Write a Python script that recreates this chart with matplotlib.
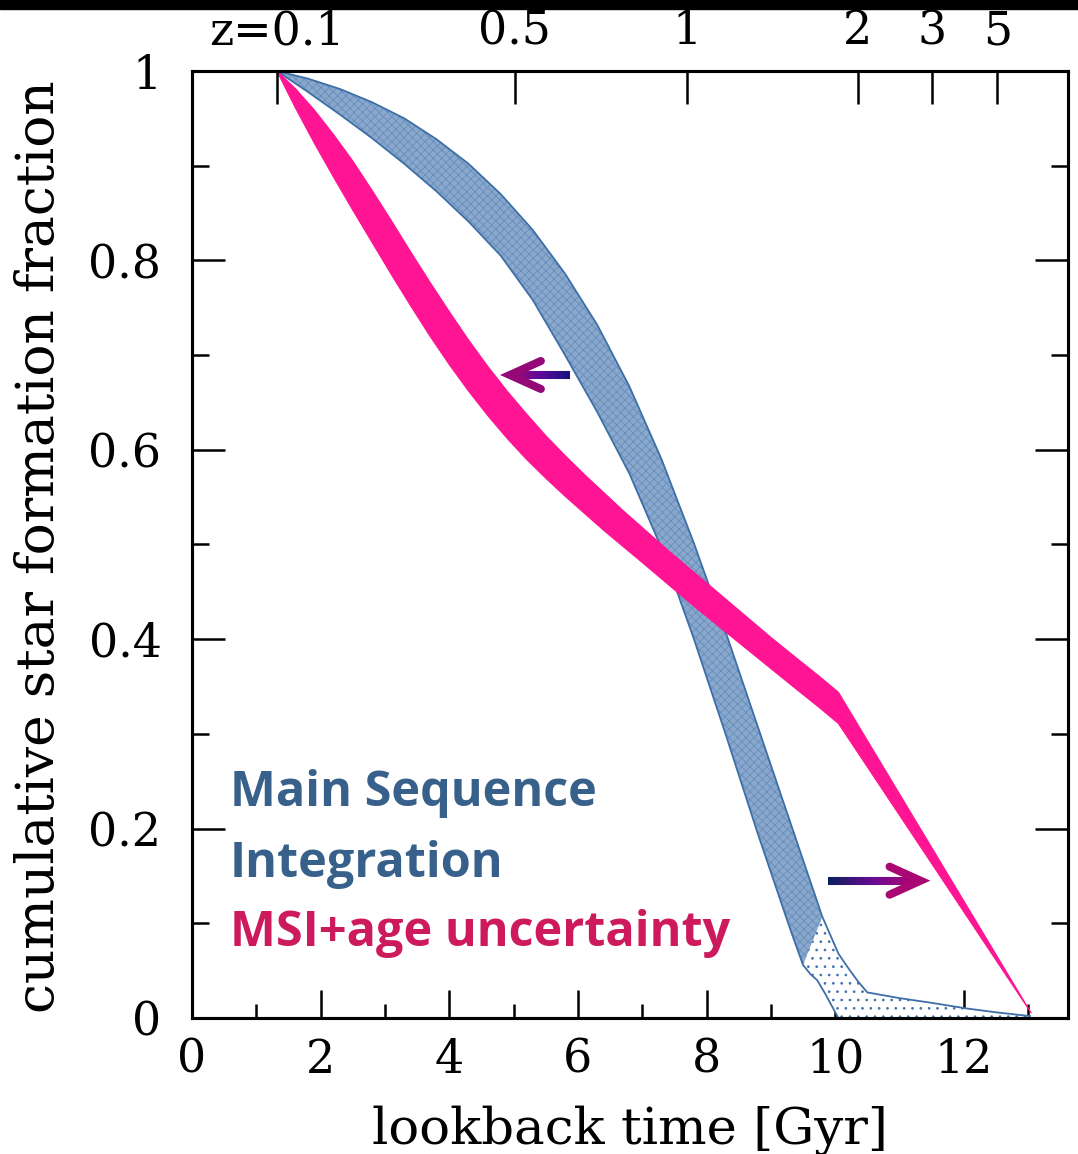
import numpy as np
import matplotlib
matplotlib.use("Agg")
import matplotlib.pyplot as plt
from matplotlib.collections import LineCollection
from matplotlib.colors import LinearSegmentedColormap
from matplotlib.patches import Rectangle
from matplotlib.ticker import MultipleLocator, FuncFormatter

# ---------------------------------------------------------------------------
# Cumulative star formation fraction vs lookback time [Gyr]
# ---------------------------------------------------------------------------

# Main Sequence Integration band: outer (upper/right) edge
ms_upper_t = [1.32, 1.80, 2.30, 2.80, 3.30, 3.80, 4.30, 4.80, 5.30, 5.80, 6.30, 6.80,
              7.30, 7.80, 8.30, 8.80, 9.30, 9.80, 10.05, 10.19, 10.35, 10.50,
              11.00, 11.50, 12.05, 12.50, 13.03]
ms_upper_f = [1.000, 0.992, 0.981, 0.967, 0.950, 0.928, 0.902, 0.870, 0.832, 0.786, 0.732, 0.667,
              0.590, 0.502, 0.407, 0.307, 0.207, 0.107, 0.068, 0.054, 0.039, 0.027,
              0.021, 0.016, 0.010, 0.006, 0.002]
# Main Sequence Integration band: inner (lower/left) edge
ms_lower_t = [1.32, 1.80, 2.30, 2.80, 3.30, 3.80, 4.30, 4.80, 5.30, 5.80, 6.30, 6.80,
              7.30, 7.80, 8.30, 8.80, 9.30, 9.50, 9.62, 9.72, 9.85, 10.05,
              11.00, 12.00, 13.03]
ms_lower_f = [1.000, 0.978, 0.954, 0.929, 0.902, 0.873, 0.841, 0.805, 0.758, 0.700, 0.640, 0.575,
              0.496, 0.401, 0.299, 0.194, 0.094, 0.056, 0.046, 0.040, 0.025, 0.000,
              0.000, 0.000, 0.000]
# end of the densely sampled part of the band on each edge
ms_dense_tmax_upper = 9.80
ms_dense_tmax_lower = 9.50

# MSI + age uncertainty band
msi_upper_t = [1.32, 1.60, 1.90, 2.20, 2.50, 2.80, 3.10, 3.40, 3.70, 4.00, 4.30, 4.60,
               4.90, 5.20, 5.50, 5.80, 6.10, 6.40, 6.70, 7.00, 7.40, 7.80, 8.20, 8.60,
               9.00, 9.40, 9.75, 10.05, 13.05]
msi_upper_f = [1.000, 0.982, 0.959, 0.933, 0.905, 0.874, 0.842, 0.809, 0.777, 0.746, 0.716, 0.688,
               0.662, 0.638, 0.615, 0.594, 0.574, 0.555, 0.536, 0.518, 0.494, 0.471, 0.448, 0.425,
               0.402, 0.380, 0.361, 0.344, 0.005]
msi_lower_t = [1.32, 1.60, 1.90, 2.20, 2.50, 2.80, 3.10, 3.40, 3.70, 4.00, 4.30, 4.60,
               4.90, 5.20, 5.50, 5.80, 6.10, 6.40, 6.70, 7.00, 7.40, 7.80, 8.20, 8.60,
               9.00, 9.40, 9.75, 10.05, 13.05]
msi_lower_f = [1.000, 0.962, 0.924, 0.888, 0.853, 0.819, 0.785, 0.752, 0.720, 0.690, 0.662, 0.636,
               0.612, 0.590, 0.570, 0.551, 0.533, 0.515, 0.498, 0.481, 0.458, 0.435, 0.413, 0.391,
               0.369, 0.347, 0.328, 0.311, 0.005]

# redshift scale on the upper axis
z_labels = ["z=0.1", "0.5", "1", "2", "3", "5"]
z_lookback = [1.32, 5.02, 7.70, 10.35, 11.50, 12.52]

x_label = "lookback time [Gyr]"
y_label = "cumulative star formation fraction"
legend_ms = ["Main Sequence", "Integration"]
legend_msi = "MSI+age uncertainty"

# arrows: (tail, tip) in data coordinates
arrow_left = ((5.87, 0.679), (4.79, 0.679))
arrow_right = ((9.89, 0.145), (11.48, 0.145))

# ---------------------------------------------------------------------------
plt.rcParams["font.family"] = ["DejaVu Serif"]
plt.rcParams["hatch.linewidth"] = 0.7

W, H = 1078, 1154
fig = plt.figure(figsize=(W / 100, H / 100), dpi=100)
fig.patch.set_facecolor("white")
ax = fig.add_axes([192 / W, 1 - 1018 / H, 876 / W, 947 / H])
ax.set_xlim(0, 13.62)
ax.set_ylim(0, 1)

BAND_EDGE = "#3d6fa6"

# full band outline, sparse dotted fill
ms_poly_x = list(ms_upper_t) + list(ms_lower_t[::-1])
ms_poly_y = list(ms_upper_f) + list(ms_lower_f[::-1])
ax.fill(ms_poly_x, ms_poly_y, facecolor="white", edgecolor="#3f72aa",
        hatch="..", linewidth=0, zorder=2)

# densely sampled part of the band
up = [(t, f) for t, f in zip(ms_upper_t, ms_upper_f) if t <= ms_dense_tmax_upper]
lo = [(t, f) for t, f in zip(ms_lower_t, ms_lower_f) if t <= ms_dense_tmax_lower]
dense = up + lo[::-1]
ax.fill([p[0] for p in dense], [p[1] for p in dense], facecolor="#8aa8cc",
        edgecolor="#6a90bd", hatch="xxxx", linewidth=0, zorder=3)

ax.plot(ms_upper_t, ms_upper_f, color=BAND_EDGE, lw=1.3, zorder=4)
ax.plot(ms_lower_t, ms_lower_f, color=BAND_EDGE, lw=1.3, zorder=4)

# MSI + age uncertainty band
msi_x = list(msi_upper_t) + list(msi_lower_t[::-1])
msi_y = list(msi_upper_f) + list(msi_lower_f[::-1])
ax.fill(msi_x, msi_y, facecolor="#ff1493", edgecolor="#ff1493", linewidth=0.8, zorder=5)

# axes styling
for s in ax.spines.values():
    s.set_linewidth(2.2)
ax.xaxis.set_major_locator(MultipleLocator(2))
ax.xaxis.set_minor_locator(MultipleLocator(1))
ax.yaxis.set_major_locator(MultipleLocator(0.2))
ax.yaxis.set_minor_locator(MultipleLocator(0.1))
fmt = FuncFormatter(lambda v, p: f"{v:g}")
ax.xaxis.set_major_formatter(fmt)
ax.yaxis.set_major_formatter(fmt)
ax.tick_params(axis="x", which="major", direction="in", length=20, width=1.8,
               top=False, labelsize=33, pad=14)
ax.tick_params(axis="x", which="minor", direction="in", length=10, width=1.8, top=False)
ax.tick_params(axis="y", which="major", direction="in", length=24, width=1.8,
               left=True, right=True, labelsize=33, pad=22)
ax.tick_params(axis="y", which="minor", direction="in", length=12, width=1.8,
               left=True, right=True)

axt = ax.twiny()
axt.set_xlim(ax.get_xlim())
axt.set_xticks(z_lookback)
axt.set_xticklabels(z_labels)
axt.tick_params(axis="x", direction="in", length=24, width=1.8, labelsize=33, pad=12)
axt.xaxis.set_minor_locator(plt.NullLocator())
for s in axt.spines.values():
    s.set_linewidth(2.2)

fig.text(630 / W, 1 - 1130 / H, x_label, ha="center", va="center", fontsize=37)
fig.text(40 / W, 1 - 547 / H, y_label, ha="center", va="center", rotation=90, fontsize=38.5)

# legend-like labels
lfont = dict(family="Open Sans", weight="bold", fontsize=35)
fig.text(230 / W, 1 - 806 / H, legend_ms[0], color="#37608a", va="baseline", **lfont)
fig.text(230 / W, 1 - 877 / H, legend_ms[1], color="#37608a", va="baseline", **lfont)
fig.text(230 / W, 1 - 946 / H, legend_msi, color="#cc1a5c", va="baseline", **lfont)


def gradient_arrow(ax, tail, tip, colors, width=5.8):
    cmap = LinearSegmentedColormap.from_list("arrow", colors)
    tr = ax.transData
    p0 = np.array(tr.transform(tail))
    p1 = np.array(tr.transform(tip))
    d = (p1 - p0) / np.linalg.norm(p1 - p0)
    perp = np.array([-d[1], d[0]])
    half_w = width * fig.dpi / 72 / 2
    arm_len, arm_half = 31.0, 14.0
    # pull the chevron vertex back so the mitred point lands on the tip
    sin_half = arm_half / np.hypot(arm_len, arm_half)
    vertex = p1 - (half_w / sin_half) * d
    n = 60
    pts = p0 + np.outer(np.linspace(0, 1, n + 1), vertex - p0)
    segs = np.stack([pts[:-1], pts[1:]], axis=1)
    segs = [tr.inverted().transform(s) for s in segs]
    lc = LineCollection(segs, colors=cmap(np.linspace(0, 1, n)), linewidths=width,
                        capstyle="butt", zorder=7)
    ax.add_collection(lc)
    a1 = vertex - arm_len * d + arm_half * perp
    a2 = vertex - arm_len * d - arm_half * perp
    head = tr.inverted().transform(np.array([a1, vertex, a2]))
    ax.plot(head[:, 0], head[:, 1], color=cmap(0.9), lw=width,
            solid_capstyle="round", solid_joinstyle="miter", zorder=8)


gradient_arrow(ax, arrow_left[0], arrow_left[1], ["#16107e", "#5e0a9c", "#a2096e"])
gradient_arrow(ax, arrow_right[0], arrow_right[1], ["#0c1f60", "#6a0a92", "#b8066a"])

# dark strip along the top edge
fig.add_artist(Rectangle((0, 1 - 9 / H), 1, 9 / H, transform=fig.transFigure,
                         color="black", zorder=10))

fig.savefig("out.png", dpi=100)
